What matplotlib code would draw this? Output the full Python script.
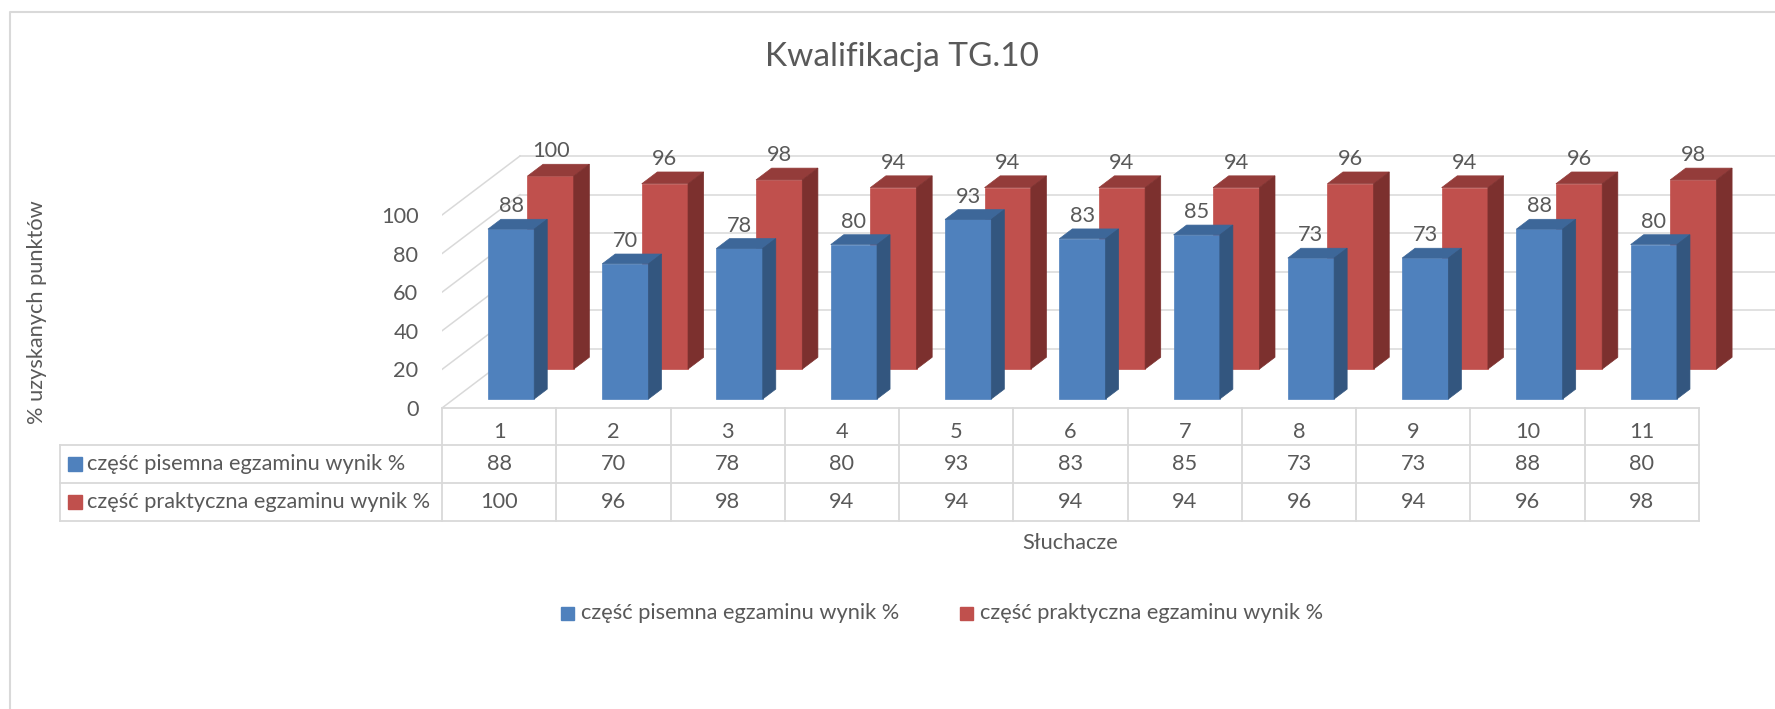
import numpy as np
import matplotlib.pyplot as plt
from matplotlib.patches import Polygon, Rectangle

# dane z wykresu
students = ['1', '2', '3', '4', '5', '6', '7', '8', '9', '10', '11']
written = [88, 70, 78, 80, 93, 83, 85, 73, 73, 88, 80]
practical = [100, 96, 98, 94, 94, 94, 94, 96, 94, 96, 98]
series_names = ['część pisemna egzaminu wynik %', 'część praktyczna egzaminu wynik %']
y_ticks = [0, 20, 40, 60, 80, 100]

TXT = '#595959'
GRID = '#D9D9D9'
BLUE = ('#4F81BD', '#3D6799', '#33567F')
RED = ('#C0504D', '#943C3A', '#7C302E')
FS = 15.7

plt.rcParams['font.family'] = ['Lato', 'DejaVu Sans']

W, H = 1775, 709
fig = plt.figure(figsize=(W / 100, H / 100), dpi=100)

# tło w pikselach: ramka, tabela, legenda, tytuły
bg = fig.add_axes([0, 0, 1, 1])
bg.set_xlim(0, W)
bg.set_ylim(H, 0)
bg.axis('off')

# obszar 3D
x0, x1 = 442, 1699
y0, ytop = 408, 100
cw = (x1 - x0) / len(students)
py = 1.93
ax = fig.add_axes([x0 / W, 1 - y0 / H, (W - x0) / W, (y0 - ytop) / H])
ax.set_facecolor('none')
xmax = (W - x0) / cw
ax.set_xlim(0, xmax)
ax.set_ylim(0, (y0 - ytop) / py)
DX, DY = 78 / cw, 59 / py
BW = 0.405

for v in y_ticks:
    ax.plot([0, DX], [v, v + DY], color=GRID, lw=1.1, zorder=1)
    ax.plot([DX, xmax], [v + DY, v + DY], color=GRID, lw=1.1, zorder=1)


def draw_series(vals, z0, z1, colors):
    front, top_c, side_c = colors
    xs = np.arange(len(vals)) + 0.5 + z0 * DX
    ax.bar(xs, vals, width=BW, bottom=z0 * DY, color=front,
           edgecolor=front, lw=0.5, zorder=3)
    ddx, ddy = (z1 - z0) * DX, (z1 - z0) * DY
    for x, v in zip(xs, vals):
        l, r = x - BW / 2, x + BW / 2
        top = z0 * DY + v
        ax.add_patch(Polygon([(l, top), (r, top), (r + ddx, top + ddy), (l + ddx, top + ddy)],
                             closed=True, color=top_c, lw=0.5, zorder=3))
        ax.add_patch(Polygon([(r, z0 * DY), (r + ddx, z0 * DY + ddy), (r + ddx, top + ddy), (r, top)],
                             closed=True, color=side_c, lw=0.5, zorder=3))
        ax.annotate(str(v), (x, top + ddy), xytext=(0, 9.4), textcoords='offset points',
                    ha='center', va='center', fontsize=FS, color=TXT, zorder=5)


draw_series(practical, 0.66, 0.86, RED)
draw_series(written, 0.153, 0.32, BLUE)

ax.set_yticks(y_ticks)
ax.set_xticks([])
ax.tick_params(axis='y', length=0, pad=17, labelsize=FS, labelcolor=TXT)
for s in ax.spines.values():
    s.set_visible(False)

# ramka wykresu
bg.plot([10, 10, W], [H, 12, 12], color=GRID, lw=1.5)

# tabela danych
rows = [408, 445, 483, 521]
tl = 60
for y in rows[1:]:
    bg.plot([tl, x1], [y, y], color=GRID, lw=1.3)
bg.plot([x0, x1], [rows[0], rows[0]], color=GRID, lw=1.3)
bg.plot([tl, tl], [rows[1], rows[3]], color=GRID, lw=1.3)
for k in range(len(students) + 1):
    bg.plot([x0 + k * cw] * 2, [rows[0], rows[3]], color=GRID, lw=1.3)

for i, s in enumerate(students):
    cx = x0 + (i + 0.5) * cw
    bg.text(cx, 432, s, ha='center', va='center', fontsize=FS, color=TXT)
    bg.text(cx, 464, str(written[i]), ha='center', va='center', fontsize=FS, color=TXT)
    bg.text(cx, 502, str(practical[i]), ha='center', va='center', fontsize=FS, color=TXT)

for yc, name, col in zip([464, 502], series_names, [BLUE[0], RED[0]]):
    bg.add_patch(Rectangle((68, yc - 7), 14, 14, color=col))
    bg.text(87, yc, name, ha='left', va='center', fontsize=FS, color=TXT)

# legenda
for xs, name, col in zip([561, 960], series_names, [BLUE[0], RED[0]]):
    bg.add_patch(Rectangle((xs, 607), 13, 13, color=col))
    bg.text(xs + 20, 613, name, ha='left', va='center', fontsize=FS, color=TXT)

bg.text(902, 57, 'Kwalifikacja TG.10', ha='center', va='center', fontsize=24, color=TXT)
bg.text(37, 312, '% uzyskanych punktów', ha='center', va='center', rotation=90,
        fontsize=FS, color=TXT)
bg.text(1070, 543, 'Słuchacze', ha='center', va='center', fontsize=FS, color=TXT)

plt.savefig('out.png', dpi=100)
